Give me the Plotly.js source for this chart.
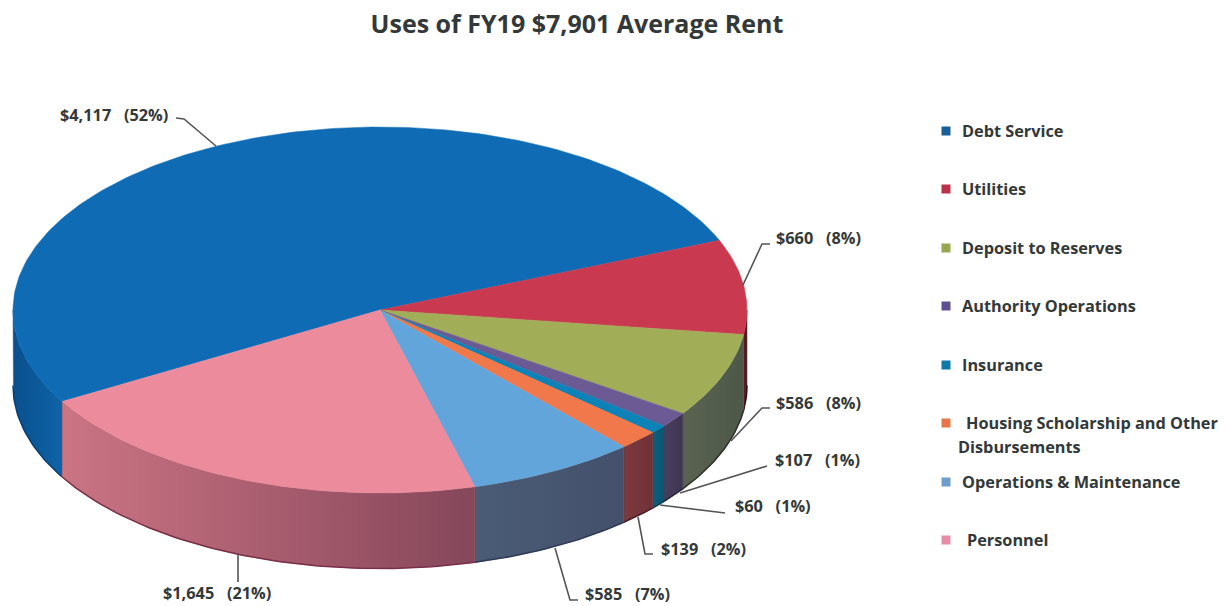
<!DOCTYPE html>
<html>
<head>
<meta charset="utf-8">
<script src="https://cdn.plot.ly/plotly-3.0.1.min.js"></script>
<style>html,body{margin:0;padding:0;background:#fff}#chart{width:1228px;height:606px}</style>
</head>
<body>
<div id="chart"></div>
<script>
// ---- data ----
const categories = ["Debt Service","Utilities","Deposit to Reserves","Authority Operations","Insurance","Housing Scholarship and Other Disbursements","Operations & Maintenance","Personnel"];
const values = [4117,660,586,107,60,139,585,1645];
const valueLabels = ["$4,117  (52%)","$660  (8%)","$586  (8%)","$107  (1%)","$60  (1%)","$139  (2%)","$585  (7%)","$1,645  (21%)"];

// ---- styles ----
const topColors = ["#0F6CB4","#C93A50","#A2AD58","#6C5A94","#0D82B6","#F0784A","#62A5DB","#EC8B9C"];
const sideFrom  = ["#0A4F8C","#5A1A22","#5A6352","#4A3E5E","#0E5F7C","#7E3A3E","#4A5C76","#CB7484"];
const sideTo    = ["#0E64A8","#5A1A22","#4E5848","#3F3550","#0C5570","#6E3238","#44506C","#86475A"];
const sideEdge  = ["#083F72","#3A0E14","#2C3226","#2A2238","#083C50","#4E1E24","#2E3A55","#7A2F48"];
const legendSwatch = ["#1B5F96","#B8324A","#97A653","#5F5090","#1079A8","#E8764A","#6E9DCB","#E58DA8"];

// ---- geometry ----
const CX=380, CY=310, RX=367, RY=183, DEPTH=75.5, START=210;
const rad=d=>d*Math.PI/180;
const px=t=>CX+RX*Math.cos(rad(t));
const py=t=>CY-RY*Math.sin(rad(t));
const total=values.reduce((a,b)=>a+b,0);

function arc(a,b,dy){ // from angle a to angle b along the ellipse, shifted down by dy
  const xs=[],ys=[]; const n=Math.max(2,Math.ceil(Math.abs(a-b)));
  for(let i=0;i<=n;i++){const t=a+(b-a)*i/n; xs.push(px(t)); ys.push(py(t)+dy);}
  return [xs,ys];
}
const traces=[]; const tops=[];
let ang=START;
values.forEach((v,i)=>{
  const a=ang, b=ang-v/total*360; ang=b;
  // visible side wall: the part of the slice on the lower half of the ellipse
  const lows=[];
  [[360,180],[0,-180]].forEach(([hi,lo])=>{
    const s=Math.min(a,hi), e=Math.max(b,lo);
    if(s>e) lows.push([s,e]);
  });
  lows.forEach(([s,e])=>{
    const [x1,y1]=arc(s,e,0); const [x2,y2]=arc(e,s,DEPTH);
    const xs=x1.concat(x2,[x1[0]]), ys=y1.concat(y2,[y1[0]]);
    traces.push({type:"scatter",mode:"lines",x:xs,y:ys,fill:"toself",hoverinfo:"skip",showlegend:false,
      line:{color:sideTo[i],width:0.5},fillcolor:sideTo[i],
      fillgradient:{type:"horizontal",start:Math.min(...xs),stop:Math.max(...xs),
        colorscale:[[0,sideFrom[i]],[1,sideTo[i]]]}});
    traces.push({type:"scatter",mode:"lines",x:x2,y:y2,hoverinfo:"skip",showlegend:false,
      line:{color:sideEdge[i],width:1.5}});
  });
  const [xa,ya]=arc(a,b,0);
  tops.push({type:"scatter",mode:"lines",x:[CX].concat(xa,[CX]),y:[CY].concat(ya,[CY]),fill:"toself",
    name:categories[i],text:valueLabels[i],hoverinfo:"name+text",showlegend:false,
    line:{color:topColors[i],width:0.5},fillcolor:topColors[i]});
});
traces.push(...tops);

// ---- leader lines ----
const leaders=[
 [[176,184,216],[118,119,146]],
 [[770,762,743],[244,244,285]],
 [[770,762,731],[408,408,441]],
 [[767,680],[466,493]],
 [[725,660],[513,505]],
 [[653,645,638],[554,554,517]],
 [[578,570,555],[600,600,548]],
 [[238,238],[555,582]]
];
leaders.forEach(l=>traces.push({type:"scatter",mode:"lines",x:l[0],y:l[1],hoverinfo:"skip",showlegend:false,
  line:{color:"#555555",width:1.6}}));

// ---- legend markers ----
const legendY=[131,189,248,306,365,423,482,540];
traces.push({type:"scatter",mode:"markers",x:legendY.map(()=>946),y:legendY,hoverinfo:"skip",showlegend:false,
  marker:{symbol:"square",size:9,color:legendSwatch,line:{width:0}}});

const FONT="'Open Sans', Lato, sans-serif", INK="#333838";
const ann=(text,x,y,size,anchor)=>({text:"<b>"+text+"</b>",x,y,xref:"x",yref:"y",showarrow:false,xanchor:anchor||"left",yanchor:"middle",
  font:{family:FONT,size:size,color:INK}});

const labelPos=[[58,115],[774,238],[774,403],[773,460],[733,506],[659,549],[583,594],[161,593]];
const legendText=[["Debt Service",960,131],["Utilities",960,189],["Deposit to Reserves",960,248],["Authority Operations",960,306],
 ["Insurance",960,365],["Housing Scholarship and Other",964,423],["Disbursements",956,447],["Operations &amp; Maintenance",960,482],["Personnel",965,540]];

const annotations=[
  ...valueLabels.map((t,i)=>ann(t.replace("  ","\u00a0\u00a0\u00a0"),labelPos[i][0],labelPos[i][1],16.3)),
  ...legendText.map(l=>ann(l[0],l[1],l[2],16.3))
];

Plotly.newPlot("chart",traces,{
  width:1228,height:606,margin:{l:0,r:0,t:0,b:0},
  paper_bgcolor:"#fff",plot_bgcolor:"#fff",showlegend:false,
  title:{text:"<b>Uses of FY19 $7,901 Average Rent</b>",x:577/1228,xanchor:"center",y:1-24/606,yanchor:"middle",
    font:{family:FONT,size:25,color:INK}},
  xaxis:{range:[0,1228],visible:false,fixedrange:true},
  yaxis:{range:[606,0],visible:false,fixedrange:true},
  annotations
},{displayModeBar:false});
</script>
</body>
</html>
